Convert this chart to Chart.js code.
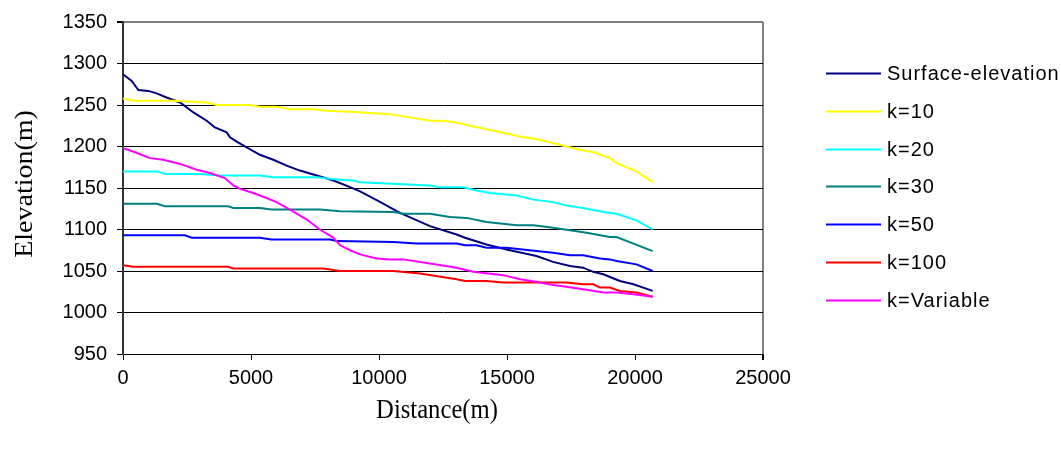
<!DOCTYPE html>
<html>
<head>
<meta charset="utf-8">
<script src="https://cdn.jsdelivr.net/npm/chart.js@4/dist/chart.umd.min.js"></script>
<style>
html,body{margin:0;padding:0;background:#fff;}
#wrap{width:1061px;height:456px;position:relative;}
</style>
</head>
<body>
<div id="wrap"><canvas id="c" width="1061" height="456"></canvas></div>
<script>
// ---- data (distance in m, elevation in m) ----
const seriesLabels = ["Surface-elevation","k=10","k=20","k=30","k=50","k=100","k=Variable"];
const xTicks = [0,5000,10000,15000,20000,25000];
const yTicks = [950,1000,1050,1100,1150,1200,1250,1300,1350];

const surfaceX = [0,340,600,990,1315,1700,2230,2750,3270,3590,4050,4180,4440,4830,5350,5870,6390,6910,7570,8220,8870,9260,10000,10820,11990,13030,13360,14200,14980,16150,16800,17460,17970,18370,18760,19410,19940,20690];
const surfaceY = [1287,1279,1268,1267,1264,1259,1253,1241,1231,1223,1217,1211,1206,1199,1190,1184,1177,1171,1165,1159,1151,1146,1134,1120,1104,1094,1090,1082,1076,1068,1061,1056,1054,1049,1046,1038,1034,1026];

const k10X = [0,400,1970,3270,3660,4960,5350,6000,6520,7430,7960,8870,10430,11990,12510,13030,13680,14340,15510,16160,17200,17850,18370,19020,19280,20060,20690];
const k10Y = [1258,1255,1255,1253,1250,1250,1248,1248,1245,1245,1243,1242,1239,1231,1231,1229,1224,1220,1212,1209,1201,1196,1193,1186,1180,1170,1157];

const k20X = [0,1320,1640,3010,3790,5350,5870,7570,8090,8480,9000,9260,11990,12380,13290,13810,14340,15380,16030,16800,17320,17970,18760,19280,20060,20690];
const k20Y = [1170,1170,1167,1167,1165,1165,1163,1163,1161,1160,1159,1157,1153,1151,1151,1147,1144,1141,1136,1133,1129,1126,1121,1119,1111,1100];

const k30X = [0,1320,1640,4110,4310,5350,5800,7690,8480,10560,10950,11990,12770,13420,14200,15380,16030,16800,17460,18110,19020,19280,20690];
const k30Y = [1131,1131,1128,1128,1126,1126,1124,1124,1122,1121,1119,1119,1115,1114,1109,1105,1105,1102,1099,1096,1091,1091,1074];

const k50X = [0,2420,2680,5350,5800,8090,8340,10560,11470,13030,13360,13810,14200,14980,16150,16800,17460,17970,18630,19020,19280,20060,20690];
const k50Y = [1093,1093,1090,1090,1088,1088,1086,1085,1083,1083,1081,1081,1078,1078,1074,1072,1069,1069,1065,1064,1062,1058,1050];

const k100X = [0,390,4110,4310,7820,8480,10560,11600,13030,13360,14200,14850,16150,17320,17970,18370,18630,19020,19410,20060,20690];
const k100Y = [1057,1055,1055,1053,1053,1050,1050,1047,1040,1038,1038,1036,1036,1036,1034,1034,1030,1030,1026,1024,1019];

const kVarX = [0,390,720,1050,1570,2230,2880,3400,3980,4310,4570,5090,5610,6000,6520,7180,7690,8220,8480,8870,9260,9910,10430,10950,11990,13030,13680,14850,15510,16150,16800,17320,17970,18760,19280,19940,20690];
const kVarY = [1198,1194,1190,1186,1184,1179,1172,1168,1162,1153,1149,1144,1138,1133,1124,1112,1100,1090,1081,1075,1070,1065,1064,1064,1059,1054,1049,1045,1040,1037,1033,1031,1028,1024,1024,1022,1019];

const seriesColors = ["#000080","#FFFF00","#00FFFF","#008080","#0000FF","#FF0000","#FF00FF"];
const allX = [surfaceX,k10X,k20X,k30X,k50X,k100X,kVarX];
const allY = [surfaceY,k10Y,k20Y,k30Y,k50Y,k100Y,kVarY];

const datasets = seriesLabels.map((lab,i)=>({
  label: lab,
  data: allX[i].map((x,j)=>({x:x,y:allY[i][j]})),
  borderColor: seriesColors[i],
  backgroundColor: seriesColors[i],
  borderWidth: 2,
  pointRadius: 0,
  tension: 0,
  fill: false,
  order: seriesLabels.length - 1 - i
}));

const extras = {
  id:'extras',
  afterDraw(chart){
    const ctx = chart.ctx;
    ctx.save();
    // legend
    ctx.font = '20px "Liberation Sans", Arial, sans-serif';
    ctx.letterSpacing = '1px';
    ctx.textBaseline = 'middle';
    ctx.textAlign = 'left';
    chart.data.datasets.forEach((ds,i)=>{
      const y = Math.round(72.7 + i*37.9) + 0.5;
      ctx.strokeStyle = ds.borderColor;
      ctx.lineWidth = 2;
      ctx.beginPath(); ctx.moveTo(826,y); ctx.lineTo(881,y); ctx.stroke();
      ctx.fillStyle = '#000';
      ctx.fillText(ds.label, 887, y+1);
    });
    ctx.letterSpacing = '0px';
    // axis titles
    ctx.font = '28px "Liberation Serif", "Times New Roman", serif';
    ctx.fillStyle = '#000';
    ctx.textAlign = 'center';
    ctx.textBaseline = 'middle';
    ctx.save();
    ctx.translate(437,411);
    ctx.scale(0.88,1);
    ctx.fillText('Distance(m)', 0, 0);
    ctx.restore();
    ctx.save();
    ctx.translate(26,184);
    ctx.rotate(-Math.PI/2);
    ctx.scale(1,0.88);
    ctx.fillText('Elevation(m)', 0, 0);
    ctx.restore();
    ctx.restore();
  }
};

new Chart(document.getElementById('c'), {
  type:'line',
  data:{datasets},
  plugins:[extras],
  options:{
    responsive:false,
    animation:false,
    devicePixelRatio:1,
    layout:{padding:{left:0,top:19,right:298,bottom:0}},
    plugins:{legend:{display:false},tooltip:{enabled:false},title:{display:false}},
    scales:{
      x:{
        type:'linear', min:0, max:25000,
        afterFit(s){ s.height = 102; },
        afterBuildTicks(s){ s.ticks = xTicks.map(v=>({value:v})); },
        ticks:{color:'#000', font:{family:'"Liberation Sans", Arial, sans-serif', size:20}, padding:6, maxRotation:0, autoSkip:false, callback:(v)=>String(v)},
        grid:{drawOnChartArea:true, color:(c)=> (c.tick && c.tick.value===25000) ? '#808080' : 'rgba(0,0,0,0)', tickColor:'#000', tickLength:6, lineWidth:(c)=> (c.tick && c.tick.value===25000) ? 2 : 1},
        border:{color:'#000', width:1}
      },
      y:{
        type:'linear', min:950, max:1350,
        afterFit(s){ s.width = 123; },
        afterBuildTicks(s){ s.ticks = yTicks.map(v=>({value:v})); },
        ticks:{color:'#000', font:{family:'"Liberation Sans", Arial, sans-serif', size:20}, padding:10, autoSkip:false, callback:(v)=>String(v)},
        grid:{drawOnChartArea:true, color:(c)=> (c.tick && c.tick.value===1350) ? '#808080' : '#000', tickColor:'#000', tickLength:6, lineWidth:(c)=> (c.tick && c.tick.value===1350) ? 2 : 1},
        border:{color:'#333', width:2}
      }
    }
  }
});
</script>
</body>
</html>
